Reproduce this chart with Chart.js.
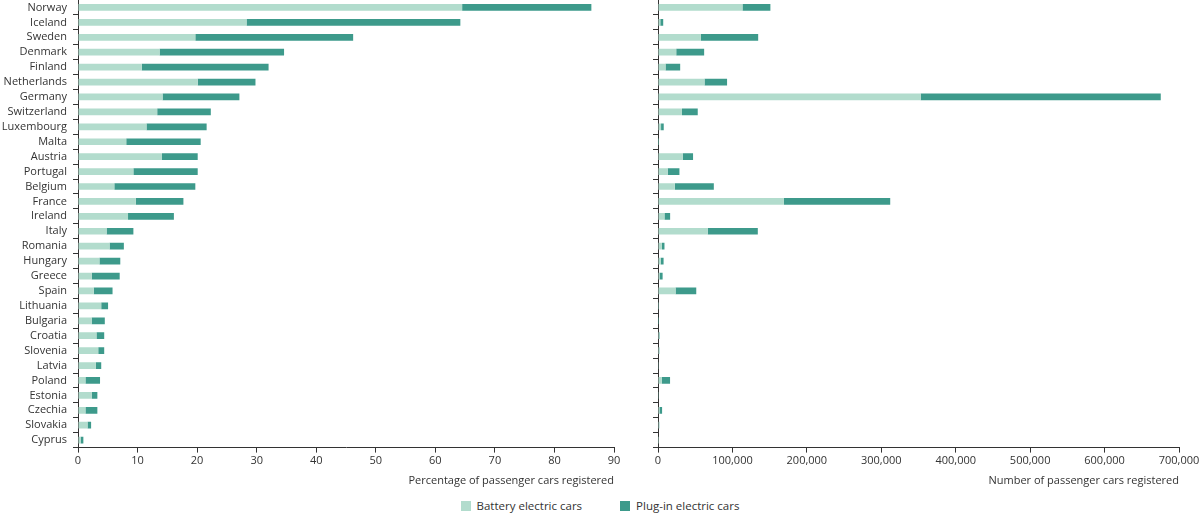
<!DOCTYPE html>
<html>
<head>
<meta charset="utf-8">
<script src="https://cdn.jsdelivr.net/npm/chart.js@4.4.1/dist/chart.umd.min.js"></script>
<style>
  html, body { margin: 0; padding: 0; background: #fff; overflow: hidden; }
  #wrap { position: relative; width: 1200px; height: 513px; font-family: "Open Sans", sans-serif; }
  #leftBox { position: absolute; left: 0; top: 0; width: 630px; height: 491px; }
  #rightBox { position: absolute; left: 620px; top: 0; width: 580px; height: 491px; }
  #legend { position: absolute; left: 0; top: 498px; width: 1200px; height: 15px; display: flex; justify-content: center; font-size: 11.5px; color: #333; }
  .item { display: flex; align-items: center; margin: 0 19px; }
  .box { width: 10px; height: 10px; margin-right: 6px; }
</style>
</head>
<body>
<div id="wrap">
  <div id="leftBox"><canvas id="pctChart"></canvas></div>
  <div id="rightBox"><canvas id="numChart"></canvas></div>
  <div id="legend"></div>
</div>
<script>
const countries = ['Norway', 'Iceland', 'Sweden', 'Denmark', 'Finland', 'Netherlands', 'Germany',
  'Switzerland', 'Luxembourg', 'Malta', 'Austria', 'Portugal', 'Belgium', 'France', 'Ireland',
  'Italy', 'Romania', 'Hungary', 'Greece', 'Spain', 'Lithuania', 'Bulgaria', 'Croatia',
  'Slovenia', 'Latvia', 'Poland', 'Estonia', 'Czechia', 'Slovakia', 'Cyprus'];

// share of new passenger cars (%)
const bevPct = [64.5, 28.3, 19.7, 13.7, 10.7, 20.1, 14.2, 13.3, 11.5, 8.1, 14.1, 9.3, 6.1, 9.7, 8.4,
  4.8, 5.3, 3.6, 2.3, 2.65, 3.9, 2.3, 3.1, 3.4, 3.0, 1.25, 2.3, 1.25, 1.6, 0.45];
const phevPct = [21.7, 35.9, 26.5, 20.9, 21.3, 9.7, 12.9, 9.0, 10.1, 12.5, 6.0, 10.8, 13.6, 8.0, 7.7,
  4.5, 2.4, 3.5, 4.7, 3.15, 1.15, 2.2, 1.3, 1.0, 0.9, 2.45, 0.95, 2.0, 0.6, 0.45];

// number of new passenger cars
const bevNum = [113500, 3100, 57700, 24500, 10100, 62500, 352900, 32200, 4100, 400, 33200, 13000,
  22600, 169200, 8700, 66800, 5300, 3800, 2000, 23600, 1050, 575, 1550, 1360, 450, 5200, 460,
  2000, 1200, 55];
const phevNum = [37500, 3900, 76900, 37500, 19700, 30300, 322600, 21200, 3600, 600, 13900, 15800,
  52400, 142800, 7600, 67300, 3400, 3700, 4200, 27800, 310, 550, 650, 400, 135, 11000, 190,
  3500, 460, 55];

const pctTicks = [0, 10, 20, 30, 40, 50, 60, 70, 80, 90];
const numTicks = [0, 100000, 200000, 300000, 400000, 500000, 600000, 700000];

const seriesNames = ['Battery electric cars', 'Plug-in electric cars'];
const lightColor = '#b2dccd';
const darkColor = '#3d9a8b';
const axisColor = '#333';

Chart.defaults.font.family = '"Open Sans", sans-serif';
Chart.defaults.font.size = 11;
Chart.defaults.color = '#333';

function makeDatasets(a, b) {
  return [
    { label: seriesNames[0], data: a, backgroundColor: lightColor, barPercentage: 0.45, categoryPercentage: 1 },
    { label: seriesNames[1], data: b, backgroundColor: darkColor, barPercentage: 0.45, categoryPercentage: 1 }
  ];
}

function makeChart(id, a, b, tickList, maxVal, title, showLabels, yWidth, padRight, fmt) {
  const ctx = document.getElementById(id).getContext('2d');
  return new Chart(ctx, {
    type: 'bar',
    data: { labels: countries, datasets: makeDatasets(a, b) },
    options: {
      indexAxis: 'y',
      responsive: true,
      maintainAspectRatio: false,
      animation: false,
      layout: { padding: { top: 0, right: padRight, bottom: 0, left: 0 } },
      plugins: { legend: { display: false }, tooltip: { enabled: false } },
      scales: {
        x: {
          stacked: true,
          min: 0,
          max: maxVal,
          afterBuildTicks: scale => { scale.ticks = tickList.map(v => ({ value: v })); },
          grid: { drawOnChartArea: false, color: axisColor, tickLength: 5 },
          border: { display: true, color: axisColor },
          ticks: { padding: 2, maxRotation: 0, callback: v => fmt(v) },
          title: { display: true, text: title, align: 'end', padding: { top: 4, bottom: 4 } },
          afterFit: scale => {
            scale.paddingLeft = 0;
            scale.paddingRight = 0;
          }
        },
        y: {
          stacked: true,
          grid: { drawOnChartArea: false, color: axisColor, tickLength: 5 },
          border: { display: true, color: axisColor },
          ticks: { display: showLabels, padding: 6, autoSkip: false },
          afterFit: scale => {
            scale.width = yWidth;
            scale.paddingTop = 0;
            scale.paddingBottom = 0;
          }
        }
      }
    }
  });
}

makeChart('pctChart', bevPct, phevPct, pctTicks, 90, 'Percentage of passenger cars registered',
  true, 78, 16, v => String(v));
makeChart('numChart', bevNum, phevNum, numTicks, 700000, 'Number of passenger cars registered',
  false, 38, 21, v => v.toLocaleString('en-US'));

const legend = document.getElementById('legend');
[lightColor, darkColor].forEach((c, i) => {
  const item = document.createElement('div');
  item.className = 'item';
  const box = document.createElement('span');
  box.className = 'box';
  box.style.background = c;
  const txt = document.createElement('span');
  txt.textContent = seriesNames[i];
  item.appendChild(box);
  item.appendChild(txt);
  legend.appendChild(item);
});
</script>
</body>
</html>
